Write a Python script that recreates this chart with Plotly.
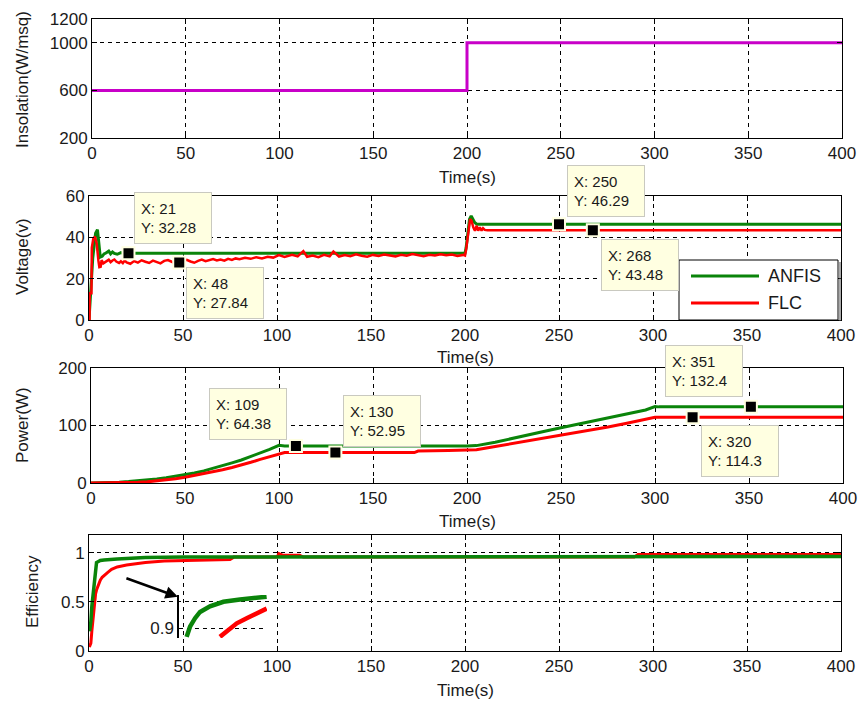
import plotly.graph_objects as go

# ---------------- data ----------------
ins_t = [0, 200, 200, 400]
ins_v = [600, 600, 1000, 1000]

anfis_v_t = [0, 1, 2, 3, 3.5, 4.5, 5.0, 5.5, 6.0, 7.0,
             8, 9, 10.5, 11.5, 12.5, 13.5, 15, 17, 19, 21,
             200, 200.6, 201.3, 202.4, 203.3, 204.2, 205.1, 206.4, 400]
anfis_v = [0, 15, 30, 38, 42, 43.7, 40, 34, 30.4, 30.8,
           32, 32.4, 33.3, 32, 32.9, 32.2, 31.8, 32.6, 32.0, 32.28,
           32.28, 35, 40.8, 48.8, 50.4, 48.8, 47.2, 46.29, 46.29]

flc_v_t = [0, 0.3, 0.4, 1.3, 1.5, 2.3, 3.2, 4.1, 5.0, 5.5,
           6.2, 6.7, 7.6, 8.5, 9.4, 10.5, 11.5, 12.5, 13.5, 14.5,
           16, 17, 18, 19, 20, 22, 24, 26, 28, 30,
           32, 34, 36, 38, 40, 42, 44, 46, 48, 50,
           52, 54, 56, 58, 60, 62, 64, 66, 68, 70,
           72, 74, 76, 78, 80, 83, 86, 89, 92, 95,
           98, 101, 104, 106, 108, 111, 114, 116, 119, 122,
           125, 128, 130, 133, 136, 139, 142, 145, 148, 151,
           154, 157, 160, 163, 166, 169, 172, 175, 178, 181,
           184, 187, 190, 193, 196, 199, 200, 200.5, 201, 201.8,
           202.7, 203.5, 204.4, 205.3, 206.2, 207, 207.9, 208.8, 209.6, 210.5,
           212, 400]
flc_v = [0, 0, 13, 13, 35, 39.4, 40.3, 37, 28.8, 25.6,
         25.8, 29, 27.4, 28.2, 28.5, 29.2, 28, 28.8, 29.3, 28.3,
         27.6, 28.4, 27.5, 28.8, 27.9, 27.2, 28.5, 27.8, 28.9, 28.2,
         27.6, 28.7, 28.1, 27.4, 28.6, 29, 28.2, 27.5, 27.84, 28.4,
         29.1, 28.3, 27.7, 28.6, 29.2, 28.5, 28.9, 29.5, 28.8, 29.3,
         28.7, 29.6, 29.1, 29.8, 29.4, 30.1, 29.6, 30.4, 29.8, 30.6,
         30.2, 31.4, 30.5, 30.9, 31.6, 30.8, 33.3, 30.6, 31.2, 30.4,
         31.5, 30.8, 33.1, 30.7, 31.4, 30.9, 31.8, 31.1, 30.6, 31.5,
         31.0, 31.7, 31.2, 30.8, 31.6, 31.1, 31.9, 31.3, 30.9, 31.6,
         31.2, 31.8, 31.3, 31.7, 31.0, 31.5, 31.2, 33.6, 38, 42.4,
         48.8, 48, 44.8, 43.2, 45.6, 43.2, 44.8, 43.2, 44.4, 43.6,
         43.48, 43.48]

anfis_p_t = [0, 5, 10, 15, 20, 25, 30, 35, 40, 45,
             50, 55, 60, 65, 70, 75, 80, 85, 90, 95,
             100, 103, 200, 205, 215, 225, 235, 245, 255, 265,
             275, 285, 295, 300, 302, 400]
anfis_p = [0, 0.3, 0.8, 1.5, 2.5, 3.6, 5, 6.8, 9, 11.4,
           14, 17.3, 21, 25.4, 30, 35, 40, 45.8, 52, 58.5,
           65.5, 64.38, 64.38, 65, 71, 78.5, 85.5, 92.5, 99.5, 106.5,
           113, 120, 127, 133, 132.4, 132.4]

flc_p_t = [0, 5, 10, 15, 20, 25, 30, 35, 40, 45,
           50, 55, 60, 65, 70, 75, 80, 85, 90, 95,
           100, 103, 172, 174, 190, 200, 205, 215, 225, 235,
           245, 255, 265, 275, 285, 295, 300, 400]
flc_p = [0, 0, 0, 0.2, 0.5, 1.2, 2, 3.5, 5.5, 7.5,
         10, 13, 16, 19.5, 23, 27, 31, 36, 41, 46,
         51, 52.95, 52.95, 55.5, 56.5, 57.5, 58, 63.5, 69, 74.5,
         80, 85.5, 91.5, 97.5, 104, 110.5, 114.3, 114.3]

anfis_e_t = [0.3, 1, 1.5, 2, 2.5, 3, 3.5, 4, 5, 6,
             8, 10, 15, 20, 30, 50, 100, 226, 400]
anfis_e = [0.2, 0.3, 0.45, 0.55, 0.62, 0.72, 0.82, 0.9, 0.91, 0.92,
           0.925, 0.93, 0.935, 0.94, 0.95, 0.955, 0.958, 0.958, 0.962]

flc_e_t = [0.2, 1, 1.5, 2, 2.5, 3, 3.5, 4, 5, 6,
           7, 8, 10, 12, 15, 20, 25, 30, 40, 50,
           60, 75, 77, 100, 101, 103, 112, 114, 290, 292, 400]
flc_e = [0.04, 0.08, 0.2, 0.3, 0.45, 0.5, 0.58, 0.62, 0.68, 0.72,
         0.75, 0.77, 0.8, 0.83, 0.855, 0.875, 0.89, 0.9, 0.915, 0.92,
         0.925, 0.93, 0.955, 0.955, 0.99, 0.975, 0.975, 0.955, 0.955, 0.982, 0.982]

# zoomed inset of the efficiency start-up (inset axis units)
inset_anfis_t = [4.0, 5.75, 8.4, 11, 16.2, 23.2, 31.9, 38.7, 45.8]
inset_anfis = [0.885, 0.903, 0.918, 0.929, 0.939, 0.947, 0.951, 0.954, 0.956]
inset_flc_t = [21.4, 24.9, 30.2, 35.4, 40.6, 45.8]
inset_flc = [0.885, 0.894, 0.909, 0.918, 0.926, 0.935]

volt_tips = [(21, 32.28), (48, 27.84), (250, 46.29), (268, 43.48)]
power_tips = [(109, 64.38), (130, 52.95), (351, 132.4), (320, 114.3)]

x_ticks = [0, 50, 100, 150, 200, 250, 300, 350, 400]

# ---------------- styling ----------------
W, H = 864, 702
GREEN = '#0a840a'
RED = '#ff0000'
MAG = '#c800c8'
FONT = 'Liberation Sans, Arial, sans-serif'
TXT = '#1a1a1a'


def px(x):
    return x / W


def py(y):
    return 1 - y / H


panels = {1: (92, 842, 19, 138), 2: (89, 841, 196, 320),
          3: (91, 843, 368, 483), 4: (89, 841, 535, 651)}

fig = go.Figure()

fig.add_trace(go.Scatter(x=ins_t, y=ins_v, mode='lines', line=dict(color=MAG, width=3),
                         xaxis='x', yaxis='y', showlegend=False))

fig.add_trace(go.Scatter(x=anfis_v_t, y=anfis_v, mode='lines', name='ANFIS',
                         line=dict(color=GREEN, width=3), xaxis='x2', yaxis='y2', showlegend=False))
fig.add_trace(go.Scatter(x=flc_v_t, y=flc_v, mode='lines', name='FLC',
                         line=dict(color=RED, width=2.5), xaxis='x2', yaxis='y2', showlegend=False))

fig.add_trace(go.Scatter(x=anfis_p_t, y=anfis_p, mode='lines',
                         line=dict(color=GREEN, width=3), xaxis='x3', yaxis='y3', showlegend=False))
fig.add_trace(go.Scatter(x=flc_p_t, y=flc_p, mode='lines',
                         line=dict(color=RED, width=3), xaxis='x3', yaxis='y3', showlegend=False))

fig.add_trace(go.Scatter(x=flc_e_t, y=flc_e, mode='lines',
                         line=dict(color=RED, width=3), xaxis='x4', yaxis='y4', showlegend=False))
fig.add_trace(go.Scatter(x=anfis_e_t, y=anfis_e, mode='lines',
                         line=dict(color=GREEN, width=3.5), xaxis='x4', yaxis='y4', showlegend=False))

fig.add_trace(go.Scatter(x=inset_anfis_t, y=inset_anfis, mode='lines',
                         line=dict(color=GREEN, width=4.5), xaxis='x5', yaxis='y5', showlegend=False))
fig.add_trace(go.Scatter(x=inset_flc_t, y=inset_flc, mode='lines',
                         line=dict(color=RED, width=4.5), xaxis='x5', yaxis='y5', showlegend=False))

# data cursor markers
fig.add_trace(go.Scatter(x=[p[0] for p in volt_tips], y=[p[1] for p in volt_tips], mode='markers',
                         marker=dict(symbol='square', size=12, color='black',
                                     line=dict(color='#ffffe1', width=2)),
                         xaxis='x2', yaxis='y2', showlegend=False))
fig.add_trace(go.Scatter(x=[p[0] for p in power_tips], y=[p[1] for p in power_tips], mode='markers',
                         marker=dict(symbol='square', size=12, color='black',
                                     line=dict(color='#ffffe1', width=2)),
                         xaxis='x3', yaxis='y3', showlegend=False))

axis_common = dict(showline=True, linecolor='black', linewidth=1, mirror='ticks',
                   ticks='inside', ticklen=5, tickcolor='black', tickwidth=1,
                   showgrid=True, gridcolor='black', griddash='4px,4px', gridwidth=1,
                   zeroline=False, automargin=False,
                   tickfont=dict(family=FONT, size=17, color=TXT))

yconf = {1: dict(range=[200, 1200], tickvals=[200, 600, 1000, 1200]),
         2: dict(range=[0, 60], tickvals=[0, 20, 40, 60]),
         3: dict(range=[0, 200], tickvals=[0, 100, 200]),
         4: dict(range=[0, 1.18], tickvals=[0, 0.5, 1])}

layout = dict(width=W, height=H, autosize=False, margin=dict(l=0, r=0, t=0, b=0, pad=0),
              paper_bgcolor='white', plot_bgcolor='rgba(0,0,0,0)', showlegend=False,
              template='none')

for i, (x0, x1, y0, y1) in panels.items():
    sx = '' if i == 1 else str(i)
    layout['xaxis' + sx] = dict(axis_common, domain=[px(x0), px(x1)], range=[0, 400],
                                tickvals=x_ticks, anchor='y' + sx)
    layout['yaxis' + sx] = dict(axis_common, domain=[py(y1), py(y0)], anchor='x' + sx,
                                **yconf[i])

# inset axes
layout['xaxis5'] = dict(domain=[px(179), px(267)], range=[0, 46], visible=False,
                        anchor='y5', fixedrange=True, automargin=False)
layout['yaxis5'] = dict(domain=[py(638), py(595)], range=[0.883, 0.959], anchor='x5',
                        showline=True, linecolor='black', linewidth=1.5,
                        ticks='inside', ticklen=4, tickcolor='black',
                        tickvals=[0.9], ticktext=['0.9'], automargin=False,
                        showgrid=True, gridcolor='black', griddash='4px,4px', gridwidth=1,
                        zeroline=False, tickfont=dict(family=FONT, size=17, color=TXT))

fig.update_layout(**layout)

annotations = []
# y titles
for text, x, y in [('Insolation(W/msq)', 22, 80), ('Voltage(v)', 22, 257),
                   ('Power(W)', 22, 425), ('Efficiency', 32, 592)]:
    annotations.append(dict(text=text, x=px(x), y=py(y), xref='paper', yref='paper',
                            textangle=-90, showarrow=False, xanchor='center', yanchor='middle',
                            font=dict(family=FONT, size=17, color=TXT)))
# x titles
for i, yy in zip([1, 2, 3, 4], [177, 357, 521, 690]):
    x0, x1, _, _ = panels[i]
    annotations.append(dict(text='Time(s)', x=px((x0 + x1) / 2), y=py(yy), xref='paper', yref='paper',
                            showarrow=False, xanchor='center', yanchor='middle',
                            font=dict(family=FONT, size=17, color=TXT)))


def tip(x, y, xr, yr, xa, ya, xs, ys):
    return dict(text=f'X: {x}<br>Y: {y}', x=x, y=y, xref=xr, yref=yr, showarrow=False,
                xanchor=xa, yanchor=ya, xshift=xs, yshift=ys, align='left', valign='middle',
                width=64, height=38, borderpad=6, bgcolor='#ffffe1', bordercolor='#c9c9c0',
                borderwidth=1, font=dict(family=FONT, size=15, color=TXT))


tip_pos_v = [('left', 'bottom', 6, 9), ('left', 'top', 7, -5),
             ('left', 'bottom', 8, 7), ('left', 'top', 8, -9)]
tip_pos_p = [('right', 'bottom', -9, 6), ('left', 'bottom', 8, 6),
             ('right', 'bottom', -8, 10), ('left', 'top', 8, -8)]
for (x, y), pos in zip(volt_tips, tip_pos_v):
    annotations.append(tip(x, y, 'x2', 'y2', *pos))
for (x, y), pos in zip(power_tips, tip_pos_p):
    annotations.append(tip(x, y, 'x3', 'y3', *pos))

# arrow pointing to the inset
annotations.append(dict(text='', x=47.3, y=0.551, xref='x4', yref='y4',
                        ax=19.1, ay=0.745, axref='x4', ayref='y4', showarrow=True,
                        arrowhead=2, arrowsize=1, arrowwidth=2.5, arrowcolor='black'))

# legend text
for text, yy in [('ANFIS', 276), ('FLC', 303)]:
    annotations.append(dict(text=text, x=px(766), y=py(yy), xref='paper', yref='paper',
                            showarrow=False, xanchor='left', yanchor='middle',
                            font=dict(family=FONT, size=18, color=TXT)))

shapes = [
    dict(type='line', xref='paper', yref='paper', x0=px(840), x1=px(840), y0=py(262), y1=py(321),
         line=dict(color='#555555', width=1)),
    dict(type='rect', xref='paper', yref='paper', x0=px(679), x1=px(838), y0=py(320), y1=py(260),
         fillcolor='white', line=dict(color='black', width=1)),
    dict(type='line', xref='paper', yref='paper', x0=px(691), x1=px(759), y0=py(276), y1=py(276),
         line=dict(color=GREEN, width=3)),
    dict(type='line', xref='paper', yref='paper', x0=px(691), x1=px(759), y0=py(303), y1=py(303),
         line=dict(color=RED, width=3)),
]

fig.update_layout(annotations=annotations, shapes=shapes)

fig.write_html('out.html', config={'displayModeBar': False},
               post_script="document.body.style.margin='0';document.body.style.overflow='hidden';")
